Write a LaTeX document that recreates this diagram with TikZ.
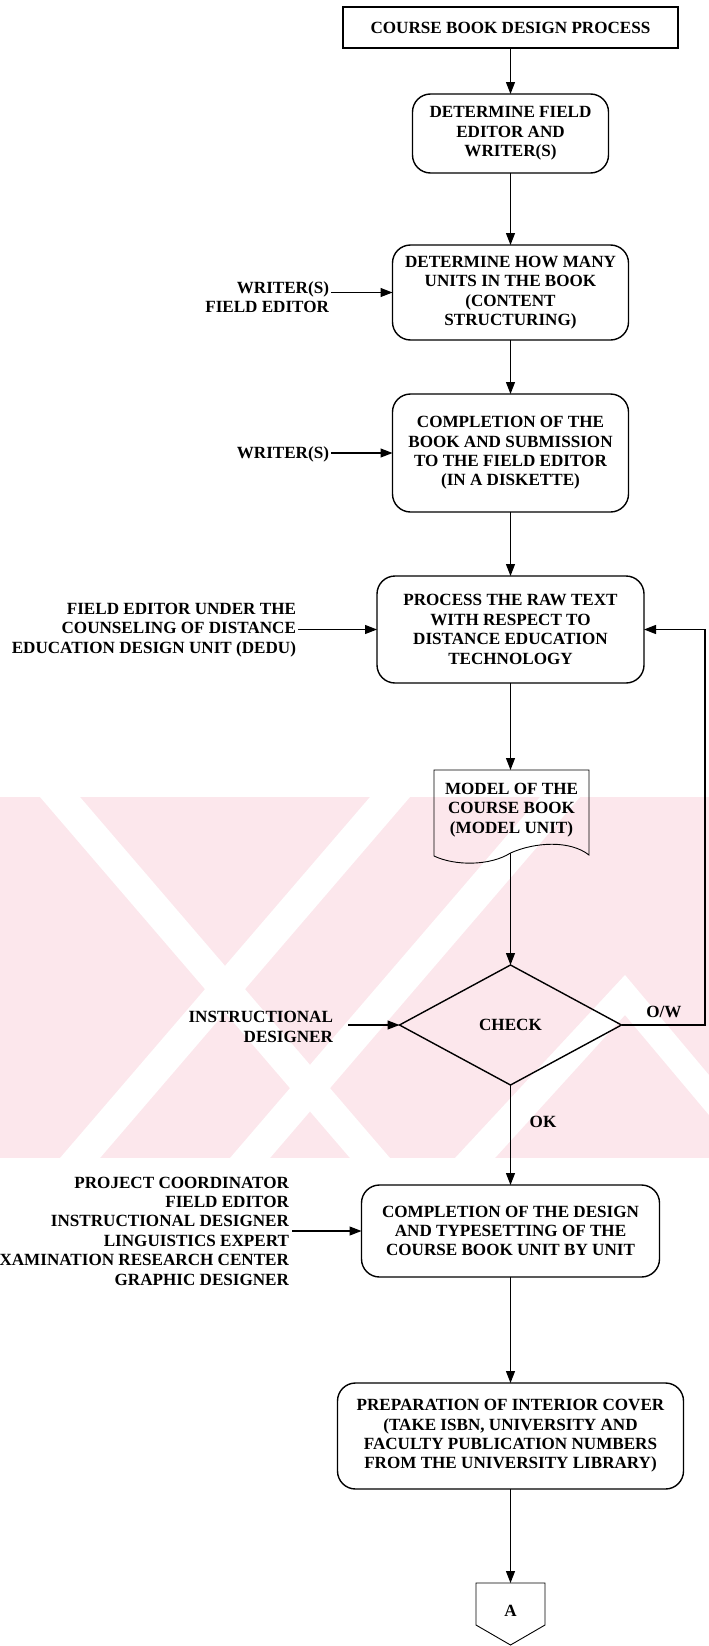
\documentclass[tikz,border=0pt]{standalone}
\usepackage{fontspec}
\setmainfont{Liberation Serif}
\usetikzlibrary{arrows.meta,shapes.geometric,calc}
\definecolor{wmpink}{RGB}{252,231,236}
\begin{document}
\begin{tikzpicture}[x=1pt,y=-1pt,
  font=\bfseries\fontsize{17.1}{19.4}\selectfont,
  every node/.style={inner sep=0pt, outer sep=0pt, align=center},
  roundbox/.style={draw, line width=1.4pt, rounded corners=18pt},
  titlebox/.style={draw, line width=1.1pt},
  flow/.style={line width=1.1pt, -{Triangle[length=12pt,width=9pt]}},
  docline/.style={line width=0.9pt},
  actor/.style={anchor=east, align=right}]
\useasboundingbox (0,0) rectangle (709,1646);

% faint background emblem
\begin{scope}
  \clip (0,797) rectangle (709,1158);
  \fill[wmpink] (0,797) rectangle (709,1158);
  \fill[white] (40,797) -- (80,797) -- (390,1158) -- (350,1158) -- cycle;
  \fill[white] (370,797) -- (410,797) -- (100,1158) -- (60,1158) -- cycle;
  \fill[white] (540,797) -- (580,797) -- (270,1158) -- (230,1158) -- cycle;
  \fill[white] (625,975) -- (709,1075) -- (709,1115) -- (625,1015) -- (495,1158) -- (455,1158) -- cycle;
\end{scope}

% main column
\node[titlebox, minimum width=335pt, minimum height=41pt] (title) at (510.5,27.5) {COURSE BOOK DESIGN PROCESS};
\node[roundbox, minimum width=196pt, minimum height=79pt] (fe) at (510.5,133.5) {DETERMINE FIELD\\EDITOR AND\\WRITER(S)};
\node[roundbox, minimum width=236pt, minimum height=95pt] (units) at (510.5,292.5) {DETERMINE HOW MANY\\UNITS IN THE BOOK\\(CONTENT\\STRUCTURING)};
\node[roundbox, minimum width=236pt, minimum height=118pt] (subm) at (510.5,453) {COMPLETION OF THE\\BOOK AND SUBMISSION\\TO THE FIELD EDITOR\\(IN A DISKETTE)};
\node[roundbox, minimum width=267pt, minimum height=107pt] (raw) at (510.5,629.5) {PROCESS THE RAW TEXT\\WITH RESPECT TO\\DISTANCE EDUCATION\\TECHNOLOGY};

% document symbol
\node[minimum width=155pt, minimum height=80pt] (model) at (511.5,810) {MODEL OF THE\\COURSE BOOK\\(MODEL UNIT)};
\coordinate (modelout) at (510.5,853);
\draw[docline] (model.north west) -- (model.north east) -- (589,855)
  .. controls (570,840) and (535,842) .. (modelout)
  .. controls (490,866) and (455,866) .. (434,856) -- cycle;

\node[draw, diamond, line width=1.4pt, minimum width=222pt, minimum height=120pt] (check) at (510.5,1025) {CHECK};
\node[roundbox, minimum width=298pt, minimum height=92pt] (typeset) at (510.5,1231) {COMPLETION OF THE DESIGN\\AND TYPESETTING OF THE\\COURSE BOOK UNIT BY UNIT};
\node[roundbox, minimum width=346pt, minimum height=106pt] (cover) at (510.5,1436) {PREPARATION OF INTERIOR COVER\\(TAKE ISBN, UNIVERSITY AND\\FACULTY PUBLICATION NUMBERS\\FROM THE UNIVERSITY LIBRARY)};

% off-page connector
\coordinate (conAtop) at (510.5,1583);
\draw[docline] (476,1583) -- (545,1583) -- (545,1625) -- (510.5,1645) -- (476,1625) -- cycle;
\node (conA) at (510.5,1611) {A};

% participants
\node[actor] (lab3) at (329,297) {WRITER(S)\\FIELD EDITOR};
\node[actor] (lab4) at (329,454) {WRITER(S)};
\node[actor] (lab5) at (296,630) {FIELD EDITOR UNDER THE\\COUNSELING OF DISTANCE\\EDUCATION DESIGN UNIT (DEDU)};
\node[actor] (labck) at (333,1027) {INSTRUCTIONAL\\DESIGNER};
\node[actor] (lab6) at (289,1231) {PROJECT COORDINATOR\\FIELD EDITOR\\INSTRUCTIONAL DESIGNER\\LINGUISTICS EXPERT\\EXAMINATION RESEARCH CENTER\\GRAPHIC DESIGNER};

% branch labels
\node (ow) at (664,1012) {O/W};
\node (ok) at (543,1122) {OK};

% connectors
\draw[flow] (title.south) -- (fe.north);
\draw[flow] (fe.south) -- (units.north);
\draw[flow] (units.south) -- (subm.north);
\draw[flow] (subm.south) -- (raw.north);
\draw[flow] (raw.south) -- (model.north -| raw.south);
\draw[flow] (modelout) -- (check.north);
\draw[flow] (check.south) -- (typeset.north);
\draw[flow] (typeset.south) -- (cover.north);
\draw[flow] (cover.south) -- (conAtop);
\coordinate (fbcorner) at (705,1025);
\draw[flow] (check.east) -- (fbcorner) |- (raw.east);

\draw[flow] ($(lab3.east |- units.west)+(2,0)$) -- (units.west);
\draw[flow] ($(lab4.east |- subm.west)+(2,0)$) -- (subm.west);
\draw[flow] ($(lab5.east |- raw.west)+(2,0)$) -- (raw.west);
\draw[flow] ($(labck.east |- check.west)+(15,0)$) -- (check.west);
\draw[flow] ($(lab6.east |- typeset.west)+(3,0)$) -- (typeset.west);
\end{tikzpicture}
\end{document}
